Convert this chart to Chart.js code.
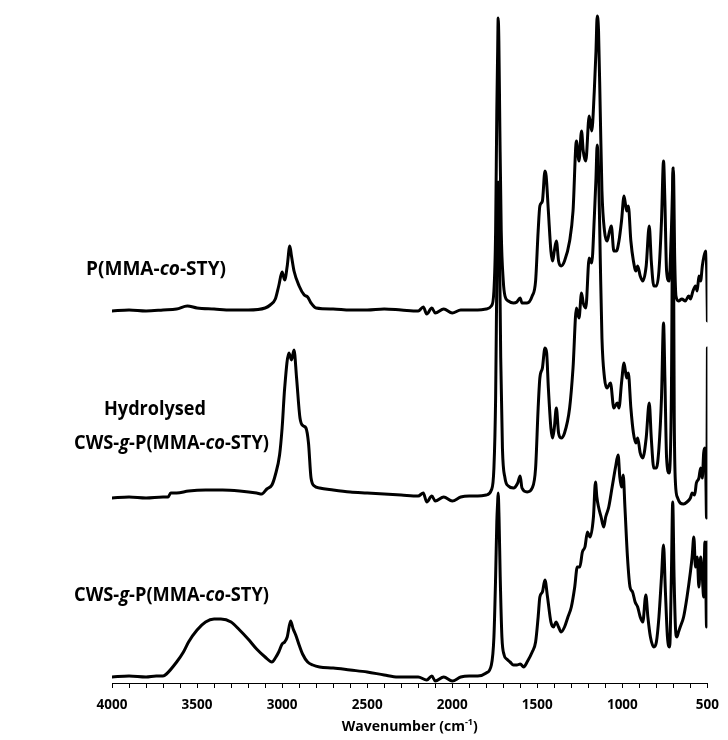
<!DOCTYPE html>
<html><head><meta charset="utf-8">
<script src="https://cdn.jsdelivr.net/npm/chart.js@4/dist/chart.umd.min.js"></script>
<style>html,body{margin:0;padding:0;background:#fff}</style>
</head><body>
<canvas id="c" width="728" height="740"></canvas>
<script>
// ---- data (wavenumber cm-1, absorbance a.u. above each trace's own baseline) ----
const topWn = [4000,3900,3800,3700,3620,3557,3500,3400,3300,3200,3100,3070,3040,3020,3000,2985,2970,2955,2945,2930,2900,2870,2850,2830,2800,2700,2600,2500,2400,2300,2200,2170,2150,2120,2100,2050,2000,1950,1900,1850,1800,1770,1755,1745,1738,1733,1730,1726,1720,1712,1700,1690,1670,1640,1620,1601,1590,1560,1530,1510,1495,1485,1470,1455,1448,1435,1420,1410,1400,1388,1375,1360,1340,1310,1290,1270,1255,1240,1230,1215,1195,1180,1165,1155,1148,1140,1130,1120,1105,1090,1075,1065,1050,1035,1020,1005,990,975,965,950,935,920,910,895,880,860,842,830,815,800,785,770,758,750,740,725,712,700,692,685,670,650,630,610,600,585,570,560,550,540,530,520,510,503,500];
const topAbs = [0,0.1,0,0.1,0.2,0.5,0.3,0.2,0.1,0.1,0.3,0.6,1.2,2.5,3.9,3.1,4.5,6.5,5.5,4.0,2.5,1.6,1.4,0.8,0.3,0.2,0.1,0.1,0.2,0.1,0,0.4,-0.3,0.3,-0.2,0.2,-0.2,0.1,0.1,0.1,0.2,0.5,2,8,20,26,29.3,27,18,8,3,1.5,1,0.8,0.9,1.3,0.8,0.8,1.5,3,8,10.5,11,14,13.5,10,6,5,6,7,5,4.5,5,7,10,17,15,18,16,15,19.5,18,22,26,29.5,28,20,12,8,7,8,8.5,6,6,7,9,11.5,10,10.5,7,5,4,4.5,3.5,3,4.5,8.5,5,2.5,2.5,4,9,15,11,4,3,8,14,5,1.5,1,1.2,1,1.5,1.2,2,2.5,2,3.5,3,4.5,5.5,6,3,-1];

const midWn = [4000,3900,3800,3700,3670,3655,3620,3550,3450,3350,3250,3150,3120,3090,3060,3040,3015,3000,2985,2960,2945,2930,2915,2895,2875,2860,2845,2830,2810,2780,2700,2600,2500,2400,2300,2200,2170,2150,2120,2100,2050,2000,1950,1900,1850,1800,1770,1755,1745,1738,1733,1730,1722,1715,1705,1690,1670,1640,1615,1601,1590,1560,1530,1510,1495,1485,1470,1455,1445,1435,1420,1410,1400,1388,1375,1360,1340,1310,1290,1270,1255,1240,1230,1215,1195,1180,1165,1155,1148,1140,1130,1120,1105,1090,1070,1050,1030,1020,1005,990,975,965,950,935,920,910,895,880,860,842,830,815,800,785,770,758,750,740,725,712,702,695,688,675,660,640,620,600,590,575,565,550,540,530,522,515,510,505,502,500];
const midAbs = [0,0.1,0,0.1,0.1,0.5,0.5,0.7,0.8,0.8,0.7,0.5,0.4,0.9,1.3,2.3,4.3,7,11,14.5,13.8,14.8,12,8,7.2,7,5.5,2,1.2,1,0.8,0.6,0.5,0.4,0.3,0.2,0.5,-0.4,0.2,-0.3,0.1,-0.3,0.1,0.2,0.2,0.3,0.8,3,10,22,29,31.6,25,14,5,2,1.2,1,1.5,2.2,1,0.6,1,3,9,12,13,15,14.5,11,7,6,7,9,6.5,6,6.5,9,13,19,18,20.5,19.5,19,24,23.5,28,32,35.3,33,24,16,12,11,11.5,9,9.5,9,11.5,13.5,12,12.5,9,6.5,5.5,6,4.5,4,6,9.5,6,3,3,5,10,17.5,12,4,2.5,10,33,8,1.5,0,-0.5,-0.6,-0.4,0,0.5,0.3,1.5,2,3,2,4.5,5,3,-2,5,15];

const botWn = [4000,3900,3800,3740,3700,3680,3620,3580,3550,3500,3450,3400,3360,3300,3250,3200,3150,3100,3060,3040,3020,3000,2985,2970,2950,2935,2920,2900,2880,2850,2820,2780,2700,2600,2500,2400,2320,2200,2150,2120,2100,2050,2000,1950,1900,1850,1800,1770,1755,1745,1738,1733,1730,1725,1718,1708,1695,1680,1660,1640,1620,1600,1580,1560,1530,1510,1495,1485,1470,1455,1440,1420,1405,1390,1375,1360,1340,1320,1300,1280,1265,1250,1235,1220,1205,1190,1170,1158,1150,1140,1125,1110,1098,1080,1060,1040,1025,1015,1005,995,985,970,955,940,925,910,895,880,862,850,835,815,800,785,770,758,748,735,722,712,704,696,688,680,670,660,640,620,600,590,580,570,560,550,540,530,522,515,510,505,502,500];
const botAbs = [0,0.1,0,0.1,0.1,0.3,1.5,2.5,3.5,4.7,5.5,5.8,5.8,5.5,4.7,3.8,2.8,2,1.5,1.9,2.5,3.3,3.5,4,5.6,4.8,4.2,3.2,2.3,1.5,1.2,1,0.9,0.7,0.5,0.2,0,0,-0.3,0.1,-0.4,0,-0.4,0,0.1,0.1,0.4,1.2,4,10,15.5,17.5,18.4,16,10,4,2.2,1.8,1.5,1.2,1.2,1.3,1,1.5,2.5,3.5,6,8,8.5,9.7,8,5.5,5,5.5,5,4.5,5,6,7,9,11,11,12.5,13,14.5,14,16,19.5,18,17,16,15,16,17,19,21,22.2,20,19,20.2,17,12,9,8.5,7.5,7,6,5.5,8.2,6,4,3,3.5,6,10,13.2,9,4,3,10,17.5,10,5,4,4.5,5,6,8,10.5,12,14,11,12,9,12,10,8,13.5,10,5,10,13.5];

const traceOffsets = [37.2, 18.5, 0.6];          // vertical stacking offsets (a.u.)
const xTickValues = [4000,3500,3000,2500,2000,1500,1000,500];
const traceLabels = [
  [[{t:'P(MMA-',i:false},{t:'co',i:true},{t:'-STY)',i:false}]],
  [[{t:'Hydrolysed',i:false}],[{t:'CWS-',i:false},{t:'g',i:true},{t:'-P(MMA-',i:false},{t:'co',i:true},{t:'-STY)',i:false}]],
  [[{t:'CWS-',i:false},{t:'g',i:true},{t:'-P(MMA-',i:false},{t:'co',i:true},{t:'-STY)',i:false}]]
];
const axisTitle = ['Wavenumber (cm', '-1', ')'];

function series(wn, ab, off){ return wn.map((w,k)=>({x:w, y:ab[k]+off})); }

const FONT = '"Open Sans", Lato, sans-serif';

function richWidth(ctx, parts, size){
  let w=0; parts.forEach(p=>{ctx.font=(p.i?'italic ':'')+'bold '+size+'px '+FONT; w+=ctx.measureText(p.t).width;}); return w;
}
// draw mixed upright/italic text, horizontally fitted to a target width
function drawRich(ctx, parts, x, y, size, targetW){
  const nat=richWidth(ctx,parts,size); const f=targetW? targetW/nat : 1;
  ctx.save(); ctx.translate(x,y); ctx.scale(f,1);
  let cx=0;
  parts.forEach(p=>{ctx.font=(p.i?'italic ':'')+'bold '+size+'px '+FONT; ctx.fillText(p.t,cx,0); cx+=ctx.measureText(p.t).width;});
  ctx.restore();
}

const labelPlugin = {
  id:'labels',
  afterDraw(chart){
    const ctx=chart.ctx; ctx.save(); ctx.fillStyle='#000'; ctx.textBaseline='middle'; ctx.textAlign='left';
    const S=19.5;
    drawRich(ctx, traceLabels[0][0], 86, 269, S, 140);
    drawRich(ctx, traceLabels[1][0], 104, 409, S, 102);
    drawRich(ctx, traceLabels[1][1], 74, 443, S, 195);
    drawRich(ctx, traceLabels[2][0], 74, 595, S, 195);
    // axis title with superscript
    const a=chart.chartArea; const mid=(a.left+a.right)/2;
    const big='bold 14px '+FONT, small='bold 9px '+FONT;
    ctx.font=big; const t0=ctx.measureText(axisTitle[0]).width;
    ctx.font=small; const t1=ctx.measureText(axisTitle[1]).width;
    ctx.font=big; const t2=ctx.measureText(axisTitle[2]).width;
    let x=mid-(t0+t1+t2)/2; const y=727;
    ctx.font=big; ctx.fillText(axisTitle[0],x,y); x+=t0;
    ctx.font=small; ctx.fillText(axisTitle[1],x,y-5); x+=t1;
    ctx.font=big; ctx.fillText(axisTitle[2],x,y);
    ctx.restore();
  }
};

const ds = (d)=>({data:d, borderColor:'#000', borderWidth:3, pointRadius:0, fill:false,
  cubicInterpolationMode:'monotone', borderJoinStyle:'round', borderCapStyle:'round'});

new Chart(document.getElementById('c'), {
  type:'line',
  data:{datasets:[
    ds(series(topWn, topAbs, traceOffsets[0])),
    ds(series(midWn, midAbs, traceOffsets[1])),
    ds(series(botWn, botAbs, traceOffsets[2]))
  ]},
  options:{
    responsive:false, animation:false, devicePixelRatio:1,
    layout:{padding:{left:112,right:16,top:0,bottom:0}},
    plugins:{legend:{display:false}, tooltip:{enabled:false}},
    scales:{
      x:{type:'linear', reverse:true, min:500, max:4000,
        afterBuildTicks(s){ const t=[]; for(let v=4000; v>=500; v-=100) t.push({value:v}); s.ticks=t; },
        afterFit(s){ s.height=57; },
        ticks:{autoSkip:false, maxRotation:0, padding:9, color:'#000',
          font:{family:FONT, size:13.5, weight:'bold'},
          callback:(v)=> xTickValues.includes(v) ? String(v) : ''},
        grid:{drawOnChartArea:false, drawTicks:true, tickLength:5, color:'#000', lineWidth:1},
        border:{display:true, color:'#000', width:1}
      },
      y:{display:false, min:0, max:68.3}
    }
  },
  plugins:[labelPlugin]
});
</script>
</body></html>
